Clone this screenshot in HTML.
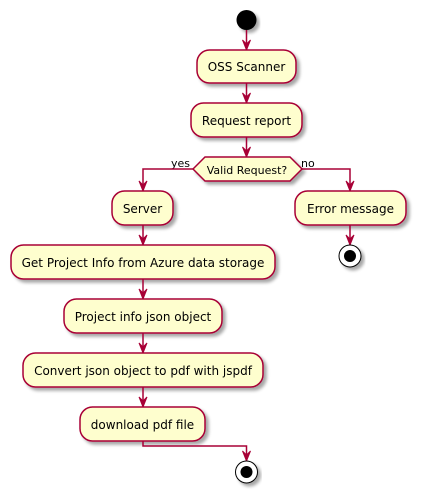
<!DOCTYPE html>
<html><head><meta charset="utf-8"><style>
html,body{margin:0;padding:0;background:#fff;}
svg{display:block;}
text{font-family:"DejaVu Sans","Liberation Sans",sans-serif;font-size:12px;fill:#000;}
.b{fill:#FEFECE;stroke:#A80036;stroke-width:1.5;filter:url(#s);}
.l{stroke:#A80036;stroke-width:1.5;fill:none;}
.a{fill:#A80036;stroke:#A80036;stroke-width:1;}
</style></head><body>
<svg width="421" height="499" viewBox="0 0 421 499" xmlns="http://www.w3.org/2000/svg">
<defs><filter id="s" x="-10%" y="-20%" width="130%" height="160%"><feGaussianBlur in="SourceAlpha" stdDeviation="1.5"/><feOffset dx="3" dy="3" result="o"/><feComponentTransfer><feFuncA type="linear" slope="0.35"/></feComponentTransfer><feMerge><feMergeNode/><feMergeNode in="SourceGraphic"/></feMerge></filter></defs>

<circle cx="246.5" cy="20" r="10" fill="#000" filter="url(#s)"/>

<!-- connectors -->
<line class="l" x1="246.5" y1="30" x2="246.5" y2="50"/>
<polygon class="a" points="242.5,40 246.5,50 250.5,40 246.5,44"/>
<rect class="b" x="197" y="50" width="99" height="33" rx="12.5"/>
<text x="246.5" y="71" text-anchor="middle">OSS Scanner</text>

<line class="l" x1="246.5" y1="83" x2="246.5" y2="103"/>
<polygon class="a" points="242.5,93 246.5,103 250.5,93 246.5,97"/>
<rect class="b" x="191" y="103" width="111" height="34" rx="12.5"/>
<text x="246.5" y="125" text-anchor="middle">Request report</text>

<line class="l" x1="246.5" y1="137" x2="246.5" y2="157"/>
<polygon class="a" points="242.5,147 246.5,157 250.5,147 246.5,151"/>
<polygon class="b" points="193,169 205,157 290,157 302,169 290,181 205,181"/>
<text x="247" y="174" text-anchor="middle" style="font-size:11px">Valid Request?</text>
<text x="171" y="167" style="font-size:11px">yes</text>
<text x="301" y="167" style="font-size:11px">no</text>

<polyline class="l" points="193,169 143,169 143,191"/>
<polygon class="a" points="139,181 143,191 147,181 143,185"/>
<polyline class="l" points="302,169 350,169 350,191"/>
<polygon class="a" points="346,181 350,191 354,181 350,185"/>

<rect class="b" x="112" y="191" width="61" height="34" rx="12.5"/>
<text x="142.5" y="213" text-anchor="middle">Server</text>
<rect class="b" x="295" y="191" width="111" height="34" rx="12.5"/>
<text x="350.5" y="213" text-anchor="middle">Error message</text>

<line class="l" x1="350" y1="225" x2="350" y2="245"/>
<polygon class="a" points="346,235 350,245 354,235 350,239"/>
<circle cx="350" cy="256" r="11" fill="#fff" stroke="#000" stroke-width="1" filter="url(#s)"/>
<circle cx="350" cy="256" r="6" fill="#000"/>

<line class="l" x1="143" y1="225" x2="143" y2="245"/>
<polygon class="a" points="139,235 143,245 147,235 143,239"/>
<rect class="b" x="11" y="245" width="264" height="34" rx="12.5"/>
<text x="143" y="267" text-anchor="middle">Get Project Info from Azure data storage</text>

<line class="l" x1="143" y1="279" x2="143" y2="299"/>
<polygon class="a" points="139,289 143,299 147,289 143,293"/>
<rect class="b" x="64" y="299" width="158" height="34" rx="12.5"/>
<text x="143" y="321" text-anchor="middle">Project info json object</text>

<line class="l" x1="143" y1="333" x2="143" y2="353"/>
<polygon class="a" points="139,343 143,353 147,343 143,347"/>
<rect class="b" x="23" y="353" width="240" height="34" rx="12.5"/>
<text x="143" y="375" text-anchor="middle">Convert json object to pdf with jspdf</text>

<line class="l" x1="143" y1="387" x2="143" y2="407"/>
<polygon class="a" points="139,397 143,407 147,397 143,401"/>
<rect class="b" x="80" y="407" width="125" height="34" rx="12.5"/>
<text x="142.5" y="429" text-anchor="middle">download pdf file</text>

<polyline class="l" points="143,441 143,446 246.5,446 246.5,461"/>
<polygon class="a" points="242.5,451 246.5,461 250.5,451 246.5,455"/>
<circle cx="246.5" cy="472" r="11" fill="#fff" stroke="#000" stroke-width="1" filter="url(#s)"/>
<circle cx="246.5" cy="472" r="6" fill="#000"/>
</svg>
</body></html>
